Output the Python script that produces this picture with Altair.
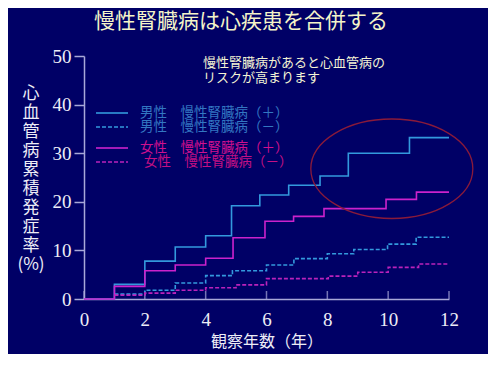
import altair as alt
import pandas as pd

# ---------------- data ----------------
title_text = "慢性腎臓病は心疾患を合併する"
note_lines = ["慢性腎臓病があると心血管病の", "リスクが高まります"]
y_title_chars = ["心", "血", "管", "病", "累", "積", "発", "症", "率", "(%)"]
x_title = "観察年数（年）"
x_ticks = [0, 2, 4, 6, 8, 10, 12]
y_ticks = [0, 10, 20, 30, 40, 50]

series_labels = [
    "男性　慢性腎臓病（＋）",
    "男性　慢性腎臓病（－）",
    "女性　慢性腎臓病（＋）",
    "女性　慢性腎臓病（－）",
]

male_pos_x = [0, 1, 2, 3, 4, 4.85, 5.78, 6.73, 7.76, 8.69, 10.7, 12]
male_pos_y = [0, 3.0, 7.8, 10.7, 13.0, 19.2, 21.4, 23.4, 25.3, 30.0, 33.2, 33.2]
male_neg_x = [1, 2, 3, 4, 4.88, 6.0, 6.9, 8.0, 8.87, 9.98, 10.92, 12]
male_neg_y = [1.0, 1.8, 3.3, 4.8, 5.8, 7.0, 8.3, 9.3, 10.2, 11.3, 12.7, 12.7]
female_pos_x = [0, 1, 2, 3, 4, 4.9, 5.95, 6.89, 7.89, 9.93, 10.93, 12]
female_pos_y = [0, 2.6, 5.8, 7.0, 8.4, 12.6, 16.0, 17.0, 18.6, 20.5, 22.0, 22.0]
female_neg_x = [1, 2, 3, 4, 5.0, 6.0, 8.03, 9.0, 10.0, 11.0, 12]
female_neg_y = [0.8, 1.2, 1.8, 2.3, 2.9, 4.2, 4.7, 5.5, 6.5, 7.2, 7.2]

ellipse_x = [10.12]
ellipse_y = [26.8]

# ---------------- style ----------------
BG = "#000066"
AXIS = "#A8A8D8"
LABEL = "#EDEDF6"
JP = "Noto Sans CJK JP"
line_colors = ["#3399DD", "#3399DD", "#CC22CC", "#BB22BB"]
text_colors = ["#3377C2", "#3377C2", "#D0108E", "#C41084"]
dashes = [None, [4, 2], None, [4, 2]]

W, H = 365, 243

xscale = alt.Scale(domain=[0, 12], nice=False, zero=False)
yscale = alt.Scale(domain=[0, 50], nice=False)

xaxis = alt.Axis(
    values=x_ticks, title=x_title, ticks=False, tickSize=0, labelPadding=11,
    domainColor=AXIS, domainWidth=1.5, grid=False, labelFlush=False,
    labelFont="Liberation Serif", labelFontSize=19, labelColor=LABEL,
    titleFont=JP, titleFontSize=16, titleFontWeight="normal", titleColor=LABEL,
    titlePadding=4,
)
yaxis = alt.Axis(
    values=y_ticks, title=None, tickSize=10, tickColor=AXIS, tickWidth=1.5,
    labelPadding=3, domainColor=AXIS, domainWidth=1.5, grid=False,
    labelFont="Liberation Serif", labelFontSize=19, labelColor=LABEL,
)

X = lambda: alt.X("x:Q", scale=xscale, axis=xaxis)
Y = lambda: alt.Y("y:Q", scale=yscale, axis=yaxis)

series = [
    (male_pos_x, male_pos_y),
    (male_neg_x, male_neg_y),
    (female_pos_x, female_pos_y),
    (female_neg_x, female_neg_y),
]

layers = []

# x ticks (pointing inward)
layers.append(
    alt.Chart(pd.DataFrame({"x": x_ticks}))
    .mark_tick(orient="vertical", color=AXIS, size=8, thickness=1.5, yOffset=-4)
    .encode(x=X(), y=alt.datum(0))
)

# step lines
for i, (xs, ys) in enumerate(series):
    kw = dict(interpolate="step-after", color=line_colors[i], strokeWidth=1.6)
    if dashes[i]:
        kw["strokeDash"] = dashes[i]
    layers.append(
        alt.Chart(pd.DataFrame({"x": xs, "y": ys})).mark_line(**kw).encode(x=X(), y=Y())
    )

# ellipse highlight
ELLIPSE = "M-1,0A1,0.614,0,1,0,1,0A1,0.614,0,1,0,-1,0Z"
layers.append(
    alt.Chart(pd.DataFrame({"x": ellipse_x, "y": ellipse_y}))
    .mark_point(shape=ELLIPSE, size=162 * 162, filled=False, color="#8A1A3A",
                strokeWidth=1.3, opacity=1)
    .encode(x=X(), y=Y())
)

# manual legend
legend_y = [57, 71, 92, 106]
for i, lab in enumerate(series_labels):
    kw = dict(color=line_colors[i], strokeWidth=1.6)
    if dashes[i]:
        kw["strokeDash"] = dashes[i]
    one = pd.DataFrame({"t": [lab]})
    layers.append(
        alt.Chart(one).mark_rule(**kw).encode(
            x=alt.value(12), x2=alt.value(44), y=alt.value(legend_y[i]))
    )
    layers.append(
        alt.Chart(one).mark_text(font=JP, fontSize=13.5, color=text_colors[i],
                                 align="left", baseline="middle")
        .encode(x=alt.value(56 + (4 if i == 3 else 0)), y=alt.value(legend_y[i]), text="t:N")
    )

# title
layers.append(
    alt.Chart(pd.DataFrame({"t": [title_text]}))
    .mark_text(font=JP, fontSize=21, color="#F4F4C8", align="center", baseline="middle")
    .encode(x=alt.value(157), y=alt.value(-34), text="t:N")
)

# note (first line placed at y, following lines below)
layers.append(
    alt.Chart(pd.DataFrame({"t": ["\n".join(note_lines)]}))
    .mark_text(font=JP, fontSize=13, color="#F4F4D4", align="left", baseline="middle",
               lineBreak="\n", lineHeight=15)
    .encode(x=alt.value(119), y=alt.value(7), text="t:N")
)

# vertical y title
layers.append(
    alt.Chart(pd.DataFrame({"t": ["\n".join(y_title_chars)]}))
    .mark_text(font=JP, fontSize=17, color=LABEL, align="center", baseline="middle",
               lineBreak="\n", lineHeight=19.1)
    .encode(x=alt.value(-53), y=alt.value(37.5), text="t:N")
)

chart = (
    alt.layer(*layers)
    .properties(
        width=W, height=H, background=BG,
        padding={"left": 76, "top": 48, "right": 39, "bottom": 55},
        autosize=alt.AutoSizeParams(type="none"),
    )
    .configure_view(stroke=None)
)

chart.save("out.html", embed_options={"renderer": "svg", "actions": False})
